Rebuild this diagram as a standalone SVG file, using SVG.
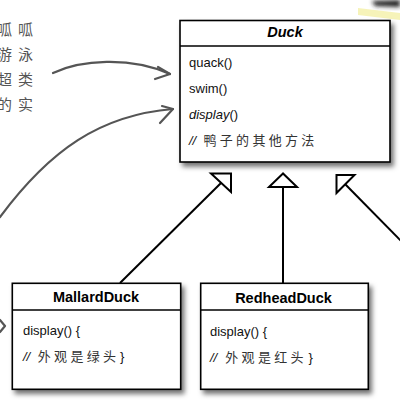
<svg xmlns="http://www.w3.org/2000/svg" width="400" height="401" viewBox="0 0 400 401">
<defs>
<filter id="sh" x="-10%" y="-10%" width="130%" height="140%">
<feDropShadow dx="3" dy="4" stdDeviation="2.5" flood-color="#000" flood-opacity="0.55"/>
</filter>
<filter id="blur" x="-50%" y="-50%" width="200%" height="200%">
<feGaussianBlur stdDeviation="2"/>
</filter>
<style>
.box{fill:#fff;stroke:#000;stroke-width:1.6}
.sep{stroke:#000;stroke-width:1.4}
.title{font-family:"Liberation Sans",Arial,sans-serif;font-size:14.5px;font-weight:bold;fill:#000;text-anchor:middle}
.m{font-family:"Liberation Sans",Arial,"Noto Sans CJK SC",sans-serif;font-size:13px;fill:#111}
.cn{font-family:"Noto Sans CJK SC",sans-serif;font-size:13px;fill:#333;letter-spacing:3.3px}
.note{font-family:"Noto Sans CJK SC",sans-serif;font-size:15px;fill:#555;letter-spacing:6px}
.gen{stroke:#000;stroke-width:2;fill:none}
.tri{fill:#fff;stroke:#000;stroke-width:2;stroke-linejoin:miter}
.hand{stroke:#555;stroke-width:2.2;fill:none;stroke-linecap:round;stroke-linejoin:round}
</style>
</defs>
<rect width="400" height="401" fill="#fff"/>

<!-- decorations top right -->
<path d="M372,1 L400,0 L400,7 L375,6 Z" fill="#222" filter="url(#blur)"/>
<polygon points="358,8 400,13 400,20 358,15" fill="#f4f0a8" opacity="0.8"/>

<!-- side note text (cut off at left) -->
<g id="note">
<text class="note" x="-3" y="35">呱呱</text>
<text class="note" x="-3" y="60">游泳</text>
<text class="note" x="-3" y="85">超类</text>
<text class="note" x="-3" y="110">的实</text>
</g>

<g id="connectors">
<path class="hand" d="M53,73 C80,60 130,56 170,74"/>
<path class="hand" d="M158,67 L170,74 L155,79"/>
<path class="hand" d="M0,217 C50,150 100,115 173,109"/>
<path class="hand" d="M162,106 L173,109 L160,123"/>
<path class="hand" d="M0,320 L5,326 L0,332"/>
<line class="gen" x1="120" y1="283" x2="221" y2="183"/>
<polygon class="tri" points="211,173.5 231,173.5 231,192"/>
<line class="gen" x1="283" y1="187" x2="283" y2="283"/>
<polygon class="tri" points="283,173.5 269,187 297,187"/>
<line class="gen" x1="345" y1="184" x2="410" y2="250"/>
<polygon class="tri" points="336.5,175 354.5,175 336.5,193"/>
</g>

<g id="Duck">
<rect class="box" x="180" y="20.5" width="210" height="141.5" filter="url(#sh)"/>
<line class="sep" x1="180" y1="46" x2="390" y2="46"/>
<text class="title" x="285" y="37" font-style="italic">Duck</text>
<text class="m" x="189" y="67">quack()</text>
<text class="m" x="189" y="93">swim()</text>
<text class="m" x="189" y="119"><tspan font-style="italic">display</tspan>()</text>
<text class="m" x="189" y="145"><tspan font-style="italic">//</tspan><tspan class="cn" x="203.5">鸭子的其他方法</tspan></text>
</g>

<g id="MallardDuck">
<rect class="box" x="12.3" y="283.3" width="168.4" height="106" filter="url(#sh)"/>
<line class="sep" x1="12.3" y1="310" x2="180.7" y2="310"/>
<text class="title" x="96" y="302">MallardDuck</text>
<text class="m" x="23" y="335">display() {</text>
<text class="m" x="23" y="361"><tspan font-style="italic">//</tspan><tspan class="cn" x="37.8">外观是绿头</tspan><tspan x="120">}</tspan></text>
</g>

<g id="RedheadDuck">
<rect class="box" x="200.7" y="283.3" width="167.6" height="106" filter="url(#sh)"/>
<line class="sep" x1="200.7" y1="310" x2="368.3" y2="310"/>
<text class="title" x="283.5" y="302.5">RedheadDuck</text>
<text class="m" x="210" y="335.5">display() {</text>
<text class="m" x="210" y="361.5"><tspan font-style="italic">//</tspan><tspan class="cn" x="225.3">外观是红头</tspan><tspan x="308.5">}</tspan></text>
</g>
</svg>
